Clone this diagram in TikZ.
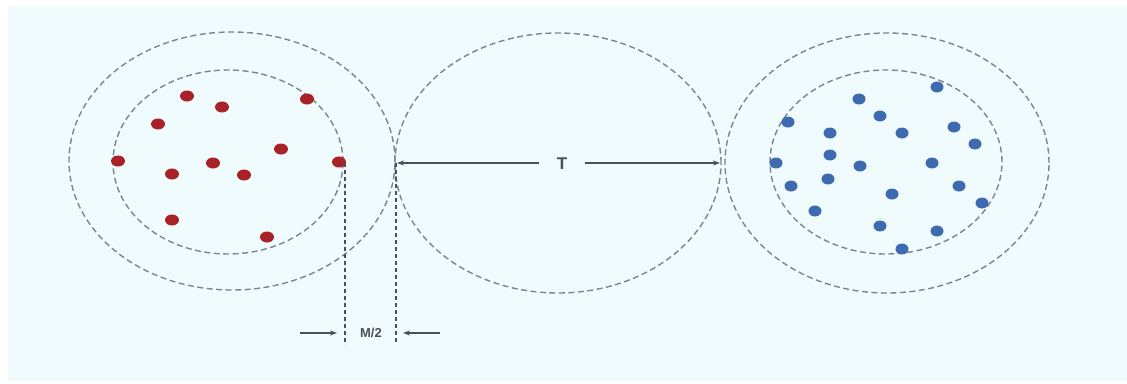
\documentclass[tikz,border=0pt]{standalone}
\usepackage{fontspec}
\setmainfont{Liberation Sans}
\usetikzlibrary{shapes.geometric,arrows.meta}
\definecolor{bg}{HTML}{F0FBFD}
\definecolor{dashc}{HTML}{7A8496}
\definecolor{reddot}{HTML}{A82228}
\definecolor{bluedot}{HTML}{3E6BB0}
\definecolor{linec}{HTML}{4A505A}
\tikzset{
  ring/.style={draw=dashc, ellipse, line width=1.4pt, dash pattern=on 6pt off 3.5pt, inner sep=0pt, fill=none},
  rdot/.style={ellipse, fill=reddot, draw=none, minimum width=14pt, minimum height=11pt, inner sep=0pt},
  bdot/.style={ellipse, fill=bluedot, draw=none, minimum width=13pt, minimum height=11pt, inner sep=0pt},
  dimline/.style={draw=linec, line width=1.2pt, -{Stealth[length=7pt,width=5pt]}},
  guide/.style={draw=linec, line width=1.3pt, dash pattern=on 4pt off 3pt},
  lbl/.style={font=\bfseries, text=linec, inner sep=0pt}
}
\begin{document}
\begin{tikzpicture}[x=1pt,y=-1pt]
\useasboundingbox (0,0) rectangle (1127,383);
\fill[white] (0,0) rectangle (1127,383);
\fill[bg] (8,6) rectangle (1127,381);
% rings
\node[ring, minimum width=326pt, minimum height=258pt] (lo) at (232,161) {};
\node[ring, minimum width=230pt, minimum height=184pt] (li) at (228,162) {};
\node[ring, minimum width=326pt, minimum height=260pt] (mid) at (558,163) {};
\node[ring, minimum width=324pt, minimum height=260pt] (ro) at (887,163) {};
\node[ring, minimum width=232pt, minimum height=184pt] (ri) at (886,162) {};
% red dots
\node[rdot] (r1) at (187,96) {};
\node[rdot] (r2) at (222,107) {};
\node[rdot] (r3) at (307,99) {};
\node[rdot] (r4) at (158,124) {};
\node[rdot] (r5) at (118,161) {};
\node[rdot] (r6) at (172,174) {};
\node[rdot] (r7) at (213,163) {};
\node[rdot] (r8) at (244,175) {};
\node[rdot] (r9) at (281,149) {};
\node[rdot] (r10) at (339,162) {};
\node[rdot] (r11) at (172,220) {};
\node[rdot] (r12) at (267,237) {};
% blue dots
\node[bdot] (b1) at (937,87) {};
\node[bdot] (b2) at (859,99) {};
\node[bdot] (b3) at (880,116) {};
\node[bdot] (b4) at (788,122) {};
\node[bdot] (b5) at (830,133) {};
\node[bdot] (b6) at (902,133) {};
\node[bdot] (b7) at (954,127) {};
\node[bdot] (b8) at (975,144) {};
\node[bdot] (b9) at (830,155) {};
\node[bdot] (b10) at (776,163) {};
\node[bdot] (b11) at (860,166) {};
\node[bdot] (b12) at (932,163) {};
\node[bdot] (b13) at (791,186) {};
\node[bdot] (b14) at (828,179) {};
\node[bdot] (b15) at (892,194) {};
\node[bdot] (b16) at (959,186) {};
\node[bdot] (b17) at (982,203) {};
\node[bdot] (b18) at (815,211) {};
\node[bdot] (b19) at (880,226) {};
\node[bdot] (b20) at (937,231) {};
\node[bdot] (b21) at (902,249) {};
% T dimension
\node[lbl, font=\bfseries\fontsize{17}{17}\selectfont] (T) at (562,164) {T};
\coordinate (tl) at (397,163);
\coordinate (tr) at (720,163);
\coordinate (tlm) at (539,163);
\coordinate (trm) at (585,163);
\draw[dimline] (tlm) -- (tl);
\draw[dimline] (trm) -- (tr);
% guides
\coordinate (g1t) at (345,163);
\coordinate (g1b) at (345,345);
\coordinate (g2t) at (396,163);
\coordinate (g2b) at (396,343);
\draw[guide] (g1t) -- (g1b);
\draw[guide] (g2t) -- (g2b);
% M/2
\node[lbl, font=\bfseries\fontsize{13}{13}\selectfont] (M) at (371,333) {M/2};
\coordinate (ma) at (300,333);
\coordinate (mb) at (337,333);
\coordinate (mc) at (440,333);
\coordinate (md) at (403,333);
\draw[dimline] (ma) -- (mb);
\draw[dimline] (mc) -- (md);
\end{tikzpicture}
\end{document}
